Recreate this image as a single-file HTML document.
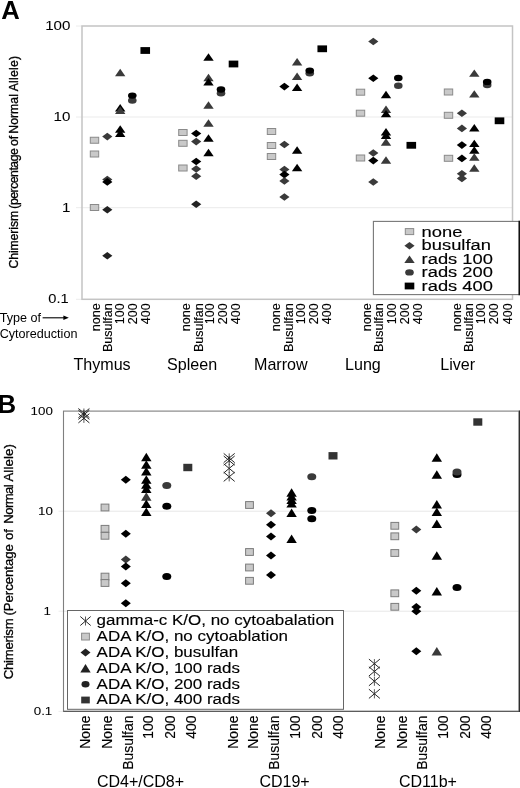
<!DOCTYPE html>
<html lang="en"><head><meta charset="utf-8"><title>Chimerism figure</title>
<style>html,body{margin:0;padding:0;background:#fff}svg{display:block;will-change:transform}text{font-family:'Liberation Sans', sans-serif;fill:#000}.b{stroke:#000;stroke-width:.13px}.b2{stroke:#000;stroke-width:.06px}.b3{stroke:#000;stroke-width:.3px}</style>
</head><body>
<svg width="520" height="788" viewBox="0 0 520 788">
<rect width="520" height="788" fill="#fff"/>
<g id="plotA">
<line x1="82.0" y1="117.0" x2="512.5" y2="117.0" stroke="#ebebeb" stroke-width="1"/>
<line x1="82.0" y1="207.7" x2="512.5" y2="207.7" stroke="#ebebeb" stroke-width="1"/>
<line x1="76.0" y1="26.0" x2="82.0" y2="26.0" stroke="#ececec" stroke-width="1"/>
<line x1="76.0" y1="117.0" x2="82.0" y2="117.0" stroke="#ececec" stroke-width="1"/>
<line x1="76.0" y1="207.7" x2="82.0" y2="207.7" stroke="#ececec" stroke-width="1"/>
<line x1="76.0" y1="299.3" x2="82.0" y2="299.3" stroke="#ececec" stroke-width="1"/>
<rect x="82.0" y="26.0" width="430.5" height="273.3" fill="none" stroke="#c4c4c4" stroke-width="1.5"/>
<rect x="90.30" y="137.25" width="8.4" height="6.0" fill="#c9c9c9" stroke="#8a8a8a" stroke-width="1"/>
<rect x="90.30" y="151.00" width="8.4" height="6.0" fill="#c9c9c9" stroke="#8a8a8a" stroke-width="1"/>
<rect x="90.30" y="204.50" width="8.4" height="6.0" fill="#c9c9c9" stroke="#8a8a8a" stroke-width="1"/>
<polygon points="102.20,136.60 107.30,132.80 112.40,136.60 107.30,140.40" fill="#3a3a3a"/>
<polygon points="102.20,179.50 107.30,175.70 112.40,179.50 107.30,183.30" fill="#3a3a3a"/>
<polygon points="102.20,181.90 107.30,178.10 112.40,181.90 107.30,185.70" fill="#000000"/>
<polygon points="102.20,209.80 107.30,206.00 112.40,209.80 107.30,213.60" fill="#222"/>
<polygon points="102.20,255.80 107.30,252.00 112.40,255.80 107.30,259.60" fill="#222"/>
<polygon points="115.00,76.20 120.20,68.80 125.40,76.20" fill="#3a3a3a"/>
<polygon points="115.00,111.50 120.20,104.10 125.40,111.50" fill="#000000"/>
<polygon points="115.00,113.90 120.20,106.50 125.40,113.90" fill="#3a3a3a"/>
<polygon points="115.00,132.70 120.20,125.30 125.40,132.70" fill="#000000"/>
<polygon points="115.00,136.90 120.20,129.50 125.40,136.90" fill="#000000"/>
<ellipse cx="132.30" cy="100.50" rx="4.3" ry="3.2" fill="#3a3a3a"/>
<ellipse cx="132.30" cy="95.60" rx="4.3" ry="3.2" fill="#000000"/>
<rect x="140.45" y="47.10" width="9.6" height="6.8" fill="#000000"/>
<rect x="178.70" y="129.50" width="8.4" height="6.0" fill="#c9c9c9" stroke="#8a8a8a" stroke-width="1"/>
<rect x="178.70" y="140.30" width="8.4" height="6.0" fill="#c9c9c9" stroke="#8a8a8a" stroke-width="1"/>
<rect x="178.70" y="165.00" width="8.4" height="6.0" fill="#c9c9c9" stroke="#8a8a8a" stroke-width="1"/>
<polygon points="191.10,133.50 196.20,129.70 201.30,133.50 196.20,137.30" fill="#000000"/>
<polygon points="191.10,141.60 196.20,137.80 201.30,141.60 196.20,145.40" fill="#3a3a3a"/>
<polygon points="191.10,161.50 196.20,157.70 201.30,161.50 196.20,165.30" fill="#000000"/>
<polygon points="191.10,169.00 196.20,165.20 201.30,169.00 196.20,172.80" fill="#3a3a3a"/>
<polygon points="191.10,176.30 196.20,172.50 201.30,176.30 196.20,180.10" fill="#3a3a3a"/>
<polygon points="191.10,204.20 196.20,200.40 201.30,204.20 196.20,208.00" fill="#222"/>
<polygon points="203.30,60.70 208.50,53.30 213.70,60.70" fill="#000000"/>
<polygon points="203.30,81.20 208.50,73.80 213.70,81.20" fill="#3a3a3a"/>
<polygon points="203.30,85.50 208.50,78.10 213.70,85.50" fill="#000000"/>
<polygon points="203.30,108.70 208.50,101.30 213.70,108.70" fill="#3a3a3a"/>
<polygon points="203.30,126.70 208.50,119.30 213.70,126.70" fill="#3a3a3a"/>
<polygon points="203.30,141.70 208.50,134.30 213.70,141.70" fill="#000000"/>
<polygon points="203.30,156.20 208.50,148.80 213.70,156.20" fill="#000000"/>
<ellipse cx="221.00" cy="93.30" rx="4.3" ry="3.2" fill="#3a3a3a"/>
<ellipse cx="221.00" cy="89.50" rx="4.3" ry="3.2" fill="#000000"/>
<rect x="228.70" y="60.60" width="9.6" height="6.8" fill="#000000"/>
<rect x="267.30" y="128.50" width="8.4" height="6.0" fill="#c9c9c9" stroke="#8a8a8a" stroke-width="1"/>
<rect x="267.30" y="142.50" width="8.4" height="6.0" fill="#c9c9c9" stroke="#8a8a8a" stroke-width="1"/>
<rect x="267.30" y="153.50" width="8.4" height="6.0" fill="#c9c9c9" stroke="#8a8a8a" stroke-width="1"/>
<polygon points="279.30,86.60 284.40,82.80 289.50,86.60 284.40,90.40" fill="#000000"/>
<polygon points="279.30,144.50 284.40,140.70 289.50,144.50 284.40,148.30" fill="#3a3a3a"/>
<polygon points="279.30,169.50 284.40,165.70 289.50,169.50 284.40,173.30" fill="#3a3a3a"/>
<polygon points="279.30,174.60 284.40,170.80 289.50,174.60 284.40,178.40" fill="#000000"/>
<polygon points="279.30,181.00 284.40,177.20 289.50,181.00 284.40,184.80" fill="#3a3a3a"/>
<polygon points="279.30,197.00 284.40,193.20 289.50,197.00 284.40,200.80" fill="#3a3a3a"/>
<polygon points="291.90,65.50 297.10,58.10 302.30,65.50" fill="#3a3a3a"/>
<polygon points="291.90,80.00 297.10,72.60 302.30,80.00" fill="#3a3a3a"/>
<polygon points="291.90,91.00 297.10,83.60 302.30,91.00" fill="#000000"/>
<polygon points="291.90,153.70 297.10,146.30 302.30,153.70" fill="#000000"/>
<polygon points="291.90,171.20 297.10,163.80 302.30,171.20" fill="#000000"/>
<ellipse cx="309.75" cy="73.20" rx="4.3" ry="3.2" fill="#3a3a3a"/>
<ellipse cx="309.75" cy="70.60" rx="4.3" ry="3.2" fill="#000000"/>
<rect x="317.45" y="45.40" width="9.6" height="6.8" fill="#000000"/>
<rect x="356.30" y="89.20" width="8.4" height="6.0" fill="#c9c9c9" stroke="#8a8a8a" stroke-width="1"/>
<rect x="356.30" y="110.20" width="8.4" height="6.0" fill="#c9c9c9" stroke="#8a8a8a" stroke-width="1"/>
<rect x="356.30" y="155.00" width="8.4" height="6.0" fill="#c9c9c9" stroke="#8a8a8a" stroke-width="1"/>
<polygon points="368.20,41.50 373.30,37.70 378.40,41.50 373.30,45.30" fill="#3a3a3a"/>
<polygon points="368.20,78.20 373.30,74.40 378.40,78.20 373.30,82.00" fill="#000000"/>
<polygon points="368.20,153.00 373.30,149.20 378.40,153.00 373.30,156.80" fill="#3a3a3a"/>
<polygon points="368.20,160.60 373.30,156.80 378.40,160.60 373.30,164.40" fill="#000000"/>
<polygon points="368.20,182.00 373.30,178.20 378.40,182.00 373.30,185.80" fill="#3a3a3a"/>
<polygon points="380.80,98.20 386.00,90.80 391.20,98.20" fill="#000000"/>
<polygon points="380.80,113.00 386.00,105.60 391.20,113.00" fill="#3a3a3a"/>
<polygon points="380.80,117.30 386.00,109.90 391.20,117.30" fill="#000000"/>
<polygon points="380.80,135.50 386.00,128.10 391.20,135.50" fill="#000000"/>
<polygon points="380.80,138.90 386.00,131.50 391.20,138.90" fill="#000000"/>
<polygon points="380.80,145.70 386.00,138.30 391.20,145.70" fill="#3a3a3a"/>
<polygon points="380.80,163.70 386.00,156.30 391.20,163.70" fill="#3a3a3a"/>
<ellipse cx="398.30" cy="85.80" rx="4.3" ry="3.2" fill="#3a3a3a"/>
<ellipse cx="398.30" cy="78.00" rx="4.3" ry="3.2" fill="#000000"/>
<rect x="406.50" y="141.90" width="9.6" height="6.8" fill="#000000"/>
<rect x="444.30" y="89.00" width="8.4" height="6.0" fill="#c9c9c9" stroke="#8a8a8a" stroke-width="1"/>
<rect x="444.30" y="112.30" width="8.4" height="6.0" fill="#c9c9c9" stroke="#8a8a8a" stroke-width="1"/>
<rect x="444.30" y="155.30" width="8.4" height="6.0" fill="#c9c9c9" stroke="#8a8a8a" stroke-width="1"/>
<polygon points="456.80,113.30 461.90,109.50 467.00,113.30 461.90,117.10" fill="#3a3a3a"/>
<polygon points="456.80,128.40 461.90,124.60 467.00,128.40 461.90,132.20" fill="#3a3a3a"/>
<polygon points="456.80,145.10 461.90,141.30 467.00,145.10 461.90,148.90" fill="#000000"/>
<polygon points="456.80,158.40 461.90,154.60 467.00,158.40 461.90,162.20" fill="#000000"/>
<polygon points="456.80,173.70 461.90,169.90 467.00,173.70 461.90,177.50" fill="#3a3a3a"/>
<polygon points="456.80,178.40 461.90,174.60 467.00,178.40 461.90,182.20" fill="#3a3a3a"/>
<polygon points="469.10,76.80 474.30,69.40 479.50,76.80" fill="#3a3a3a"/>
<polygon points="469.10,97.60 474.30,90.20 479.50,97.60" fill="#3a3a3a"/>
<polygon points="469.10,131.40 474.30,124.00 479.50,131.40" fill="#000000"/>
<polygon points="469.10,147.10 474.30,139.70 479.50,147.10" fill="#000000"/>
<polygon points="469.10,153.70 474.30,146.30 479.50,153.70" fill="#000000"/>
<polygon points="469.10,160.70 474.30,153.30 479.50,160.70" fill="#3a3a3a"/>
<polygon points="469.10,171.70 474.30,164.30 479.50,171.70" fill="#3a3a3a"/>
<ellipse cx="487.20" cy="85.10" rx="4.3" ry="3.2" fill="#3a3a3a"/>
<ellipse cx="487.20" cy="81.90" rx="4.3" ry="3.2" fill="#000000"/>
<rect x="494.70" y="117.40" width="9.6" height="6.8" fill="#000000"/>
<rect x="373.4" y="221.4" width="146.0" height="73.2" fill="#fff" stroke="#777" stroke-width="1.1"/>
<line x1="519.3" y1="220.8" x2="519.3" y2="295.2" stroke="#111" stroke-width="1.6"/>
<rect x="405.30" y="228.60" width="8.4" height="6.0" fill="#c9c9c9" stroke="#8a8a8a" stroke-width="1"/>
<polygon points="404.40,245.80 409.50,242.00 414.60,245.80 409.50,249.60" fill="#3a3a3a"/>
<polygon points="404.30,262.90 409.50,255.50 414.70,262.90" fill="#3a3a3a"/>
<ellipse cx="409.50" cy="272.40" rx="4.3" ry="3.2" fill="#3a3a3a"/>
<rect x="404.70" y="282.60" width="9.6" height="6.8" fill="#000000"/>
<text transform="translate(421.60,236.50) scale(1.31,1)" font-size="14.0" text-anchor="start" font-weight="normal" class="b">none</text>
<text transform="translate(421.60,250.00) scale(1.31,1)" font-size="14.0" text-anchor="start" font-weight="normal" class="b">busulfan</text>
<text transform="translate(421.60,263.50) scale(1.31,1)" font-size="14.0" text-anchor="start" font-weight="normal" class="b">rads 100</text>
<text transform="translate(421.60,277.00) scale(1.31,1)" font-size="14.0" text-anchor="start" font-weight="normal" class="b">rads 200</text>
<text transform="translate(421.60,290.50) scale(1.31,1)" font-size="14.0" text-anchor="start" font-weight="normal" class="b">rads 400</text>
<text transform="translate(70.40,30.40) scale(1.24,1)" font-size="12.2" text-anchor="end" font-weight="normal" class="b2">100</text>
<text transform="translate(70.40,121.30) scale(1.24,1)" font-size="12.2" text-anchor="end" font-weight="normal" class="b2">10</text>
<text transform="translate(70.40,212.40) scale(1.24,1)" font-size="12.2" text-anchor="end" font-weight="normal" class="b2">1</text>
<text transform="translate(68.60,303.10) scale(1.2,1)" font-size="12.2" text-anchor="end" font-weight="normal" class="b2">0.1</text>
<text class="b3" transform="translate(18.4,268.5) rotate(-90) scale(1,1.12)" font-size="12.2" textLength="57.6" lengthAdjust="spacing">Chimerism</text>
<text class="b3" transform="translate(18.4,208.7) rotate(-90) scale(1,1.12)" font-size="12.2" textLength="60.5" lengthAdjust="spacing">(percentage</text>
<text class="b3" transform="translate(18.4,146.0) rotate(-90) scale(1,1.12)" font-size="12.2">of</text>
<text class="b3" transform="translate(18.4,133.7) rotate(-90) scale(1,1.12)" font-size="12.2" textLength="39.6" lengthAdjust="spacing">Normal</text>
<text class="b3" transform="translate(18.4,91.3) rotate(-90) scale(1,1.12)" font-size="12.2" textLength="35.4" lengthAdjust="spacing">Allele)</text>
</g>
<text transform="translate(1.20,18.70) scale(0.98,1)" font-size="26.2" text-anchor="start" font-weight="bold" >A</text>
<text transform="translate(-2.40,412.60)" font-size="25.8" text-anchor="start" font-weight="bold" >B</text>
<text transform="translate(-0.30,322.30)" font-size="12.6" text-anchor="start" font-weight="normal" >Type of</text>
<text transform="translate(-0.30,337.90)" font-size="12.6" text-anchor="start" font-weight="normal" >Cytoreduction</text>
<line x1="42.6" y1="317.8" x2="64.5" y2="317.8" stroke="#000" stroke-width="1.1"/>
<polygon points="63.4,315.5 68.8,317.8 63.4,320.1" fill="#000"/>
<text transform="translate(100.10,303.40) rotate(-90)" font-size="12.5" text-anchor="end" font-weight="normal" class="b">none</text>
<text transform="translate(112.20,303.40) rotate(-90)" font-size="12.5" text-anchor="end" font-weight="normal" class="b">Busulfan</text>
<text transform="translate(124.20,303.40) rotate(-90)" font-size="12.5" text-anchor="end" font-weight="normal" class="b">100</text>
<text transform="translate(137.20,303.40) rotate(-90)" font-size="12.5" text-anchor="end" font-weight="normal" class="b">200</text>
<text transform="translate(150.20,303.40) rotate(-90)" font-size="12.5" text-anchor="end" font-weight="normal" class="b">400</text>
<text transform="translate(189.90,303.40) rotate(-90)" font-size="12.5" text-anchor="end" font-weight="normal" class="b">none</text>
<text transform="translate(202.50,303.40) rotate(-90)" font-size="12.5" text-anchor="end" font-weight="normal" class="b">Busulfan</text>
<text transform="translate(214.10,303.40) rotate(-90)" font-size="12.5" text-anchor="end" font-weight="normal" class="b">100</text>
<text transform="translate(226.90,303.40) rotate(-90)" font-size="12.5" text-anchor="end" font-weight="normal" class="b">200</text>
<text transform="translate(239.60,303.40) rotate(-90)" font-size="12.5" text-anchor="end" font-weight="normal" class="b">400</text>
<text transform="translate(280.40,303.40) rotate(-90)" font-size="12.5" text-anchor="end" font-weight="normal" class="b">none</text>
<text transform="translate(292.90,303.40) rotate(-90)" font-size="12.5" text-anchor="end" font-weight="normal" class="b">Busulfan</text>
<text transform="translate(305.00,303.40) rotate(-90)" font-size="12.5" text-anchor="end" font-weight="normal" class="b">100</text>
<text transform="translate(318.00,303.40) rotate(-90)" font-size="12.5" text-anchor="end" font-weight="normal" class="b">200</text>
<text transform="translate(331.10,303.40) rotate(-90)" font-size="12.5" text-anchor="end" font-weight="normal" class="b">400</text>
<text transform="translate(370.90,303.40) rotate(-90)" font-size="12.5" text-anchor="end" font-weight="normal" class="b">none</text>
<text transform="translate(383.30,303.40) rotate(-90)" font-size="12.5" text-anchor="end" font-weight="normal" class="b">Busulfan</text>
<text transform="translate(396.10,303.40) rotate(-90)" font-size="12.5" text-anchor="end" font-weight="normal" class="b">100</text>
<text transform="translate(408.90,303.40) rotate(-90)" font-size="12.5" text-anchor="end" font-weight="normal" class="b">200</text>
<text transform="translate(422.10,303.40) rotate(-90)" font-size="12.5" text-anchor="end" font-weight="normal" class="b">400</text>
<text transform="translate(460.80,303.40) rotate(-90)" font-size="12.5" text-anchor="end" font-weight="normal" class="b">none</text>
<text transform="translate(473.00,303.40) rotate(-90)" font-size="12.5" text-anchor="end" font-weight="normal" class="b">Busulfan</text>
<text transform="translate(485.10,303.40) rotate(-90)" font-size="12.5" text-anchor="end" font-weight="normal" class="b">100</text>
<text transform="translate(498.20,303.40) rotate(-90)" font-size="12.5" text-anchor="end" font-weight="normal" class="b">200</text>
<text transform="translate(512.10,303.40) rotate(-90)" font-size="12.5" text-anchor="end" font-weight="normal" class="b">400</text>
<text transform="translate(73.40,369.90)" font-size="16.1" text-anchor="start" font-weight="normal" >Thymus</text>
<text transform="translate(167.00,369.90)" font-size="16.1" text-anchor="start" font-weight="normal" >Spleen</text>
<text transform="translate(254.00,369.90)" font-size="16.1" text-anchor="start" font-weight="normal" >Marrow</text>
<text transform="translate(345.00,369.90)" font-size="16.1" text-anchor="start" font-weight="normal" >Lung</text>
<text transform="translate(440.20,369.90)" font-size="16.1" text-anchor="start" font-weight="normal" >Liver</text>
<g id="plotB">
<line x1="63.5" y1="511.2" x2="519.0" y2="511.2" stroke="#e7e7e7" stroke-width="1"/>
<line x1="63.5" y1="611.2" x2="519.0" y2="611.2" stroke="#e7e7e7" stroke-width="1"/>
<line x1="58.5" y1="511.2" x2="63.5" y2="511.2" stroke="#ededed" stroke-width="1"/>
<line x1="58.5" y1="611.2" x2="63.5" y2="611.2" stroke="#ededed" stroke-width="1"/>
<line x1="58.5" y1="711.4" x2="63.5" y2="711.4" stroke="#ededed" stroke-width="1"/>
<rect x="63.5" y="411.1" width="455.5" height="300.29999999999995" fill="none" stroke="#7f7f7f" stroke-width="1.1"/>
<line x1="63.5" y1="711.4" x2="520" y2="711.4" stroke="#5c5c5c" stroke-width="1.2"/>
<line x1="519.45" y1="410.6" x2="519.45" y2="712.0" stroke="#2e2e2e" stroke-width="1.2"/>
<path d="M78.40 408.50L89.40 417.70M78.40 417.70L89.40 408.50" stroke="#262626" stroke-width="1.0" fill="none"/>
<path d="M83.90 408.50L83.90 417.70" stroke="#262626" stroke-width="0.75" fill="none"/>
<path d="M78.40 410.20L89.40 419.40M78.40 419.40L89.40 410.20" stroke="#262626" stroke-width="1.0" fill="none"/>
<path d="M83.90 410.20L83.90 419.40" stroke="#262626" stroke-width="0.75" fill="none"/>
<path d="M78.40 413.70L89.40 422.90M78.40 422.90L89.40 413.70" stroke="#262626" stroke-width="1.0" fill="none"/>
<path d="M83.90 413.70L83.90 422.90" stroke="#262626" stroke-width="0.75" fill="none"/>
<rect x="101.10" y="504.10" width="7.8" height="6.8" fill="#c9c9c9" stroke="#7c7c7c" stroke-width="1"/>
<rect x="101.10" y="525.40" width="7.8" height="6.8" fill="#c9c9c9" stroke="#7c7c7c" stroke-width="1"/>
<rect x="101.10" y="532.40" width="7.8" height="6.8" fill="#c9c9c9" stroke="#7c7c7c" stroke-width="1"/>
<rect x="101.10" y="573.20" width="7.8" height="6.8" fill="#c9c9c9" stroke="#7c7c7c" stroke-width="1"/>
<rect x="101.10" y="579.60" width="7.8" height="6.8" fill="#c9c9c9" stroke="#7c7c7c" stroke-width="1"/>
<polygon points="120.80,479.80 125.80,475.80 130.80,479.80 125.80,483.80" fill="#000000"/>
<polygon points="120.80,533.80 125.80,529.80 130.80,533.80 125.80,537.80" fill="#000000"/>
<polygon points="120.80,559.50 125.80,555.50 130.80,559.50 125.80,563.50" fill="#3a3a3a"/>
<polygon points="120.80,566.60 125.80,562.60 130.80,566.60 125.80,570.60" fill="#000000"/>
<polygon points="120.80,583.30 125.80,579.30 130.80,583.30 125.80,587.30" fill="#000000"/>
<polygon points="120.80,603.30 125.80,599.30 130.80,603.30 125.80,607.30" fill="#000000"/>
<polygon points="141.10,461.20 146.30,452.80 151.50,461.20" fill="#000000"/>
<polygon points="141.10,468.70 146.30,460.30 151.50,468.70" fill="#000000"/>
<polygon points="141.10,475.50 146.30,467.10 151.50,475.50" fill="#000000"/>
<polygon points="141.10,483.70 146.30,475.30 151.50,483.70" fill="#000000"/>
<polygon points="141.10,488.70 146.30,480.30 151.50,488.70" fill="#000000"/>
<polygon points="141.10,493.00 146.30,484.60 151.50,493.00" fill="#000000"/>
<polygon points="141.10,500.70 146.30,492.30 151.50,500.70" fill="#3a3a3a"/>
<polygon points="141.10,508.00 146.30,499.60 151.50,508.00" fill="#000000"/>
<polygon points="141.10,516.00 146.30,507.60 151.50,516.00" fill="#000000"/>
<ellipse cx="166.80" cy="485.50" rx="4.5" ry="3.5" fill="#3a3a3a"/>
<ellipse cx="166.80" cy="506.30" rx="4.5" ry="3.5" fill="#000000"/>
<ellipse cx="166.80" cy="576.60" rx="4.5" ry="3.5" fill="#000000"/>
<rect x="183.30" y="463.80" width="9.0" height="7.4" fill="#333"/>
<path d="M223.70 453.40L234.70 462.60M223.70 462.60L234.70 453.40" stroke="#262626" stroke-width="1.0" fill="none"/>
<path d="M229.20 453.40L229.20 462.60" stroke="#262626" stroke-width="0.75" fill="none"/>
<path d="M223.70 456.00L234.70 465.20M223.70 465.20L234.70 456.00" stroke="#262626" stroke-width="1.0" fill="none"/>
<path d="M229.20 456.00L229.20 465.20" stroke="#262626" stroke-width="0.75" fill="none"/>
<path d="M223.70 463.80L234.70 473.00M223.70 473.00L234.70 463.80" stroke="#262626" stroke-width="1.0" fill="none"/>
<path d="M229.20 463.80L229.20 473.00" stroke="#262626" stroke-width="0.75" fill="none"/>
<path d="M223.70 472.20L234.70 481.40M223.70 481.40L234.70 472.20" stroke="#262626" stroke-width="1.0" fill="none"/>
<path d="M229.20 472.20L229.20 481.40" stroke="#262626" stroke-width="0.75" fill="none"/>
<rect x="245.60" y="501.60" width="7.8" height="6.8" fill="#c9c9c9" stroke="#7c7c7c" stroke-width="1"/>
<rect x="245.60" y="548.60" width="7.8" height="6.8" fill="#c9c9c9" stroke="#7c7c7c" stroke-width="1"/>
<rect x="245.60" y="564.10" width="7.8" height="6.8" fill="#c9c9c9" stroke="#7c7c7c" stroke-width="1"/>
<rect x="245.60" y="577.40" width="7.8" height="6.8" fill="#c9c9c9" stroke="#7c7c7c" stroke-width="1"/>
<polygon points="266.00,513.20 271.00,509.20 276.00,513.20 271.00,517.20" fill="#3a3a3a"/>
<polygon points="266.00,524.80 271.00,520.80 276.00,524.80 271.00,528.80" fill="#000000"/>
<polygon points="266.00,536.60 271.00,532.60 276.00,536.60 271.00,540.60" fill="#000000"/>
<polygon points="266.00,555.50 271.00,551.50 276.00,555.50 271.00,559.50" fill="#000000"/>
<polygon points="266.00,575.00 271.00,571.00 276.00,575.00 271.00,579.00" fill="#000000"/>
<polygon points="286.40,496.70 291.60,488.30 296.80,496.70" fill="#000000"/>
<polygon points="286.40,500.50 291.60,492.10 296.80,500.50" fill="#000000"/>
<polygon points="286.40,504.00 291.60,495.60 296.80,504.00" fill="#000000"/>
<polygon points="286.40,507.60 291.60,499.20 296.80,507.60" fill="#000000"/>
<polygon points="286.40,517.00 291.60,508.60 296.80,517.00" fill="#000000"/>
<polygon points="286.40,543.00 291.60,534.60 296.80,543.00" fill="#000000"/>
<ellipse cx="311.80" cy="476.80" rx="4.5" ry="3.5" fill="#3a3a3a"/>
<ellipse cx="311.80" cy="510.50" rx="4.5" ry="3.5" fill="#000000"/>
<ellipse cx="311.80" cy="518.80" rx="4.5" ry="3.5" fill="#000000"/>
<rect x="328.50" y="452.10" width="9.0" height="7.4" fill="#333"/>
<path d="M368.90 659.10L379.90 668.30M368.90 668.30L379.90 659.10" stroke="#262626" stroke-width="1.0" fill="none"/>
<path d="M374.40 659.10L374.40 668.30" stroke="#262626" stroke-width="0.75" fill="none"/>
<path d="M368.90 666.80L379.90 676.00M368.90 676.00L379.90 666.80" stroke="#262626" stroke-width="1.0" fill="none"/>
<path d="M374.40 666.80L374.40 676.00" stroke="#262626" stroke-width="0.75" fill="none"/>
<path d="M368.90 676.60L379.90 685.80M368.90 685.80L379.90 676.60" stroke="#262626" stroke-width="1.0" fill="none"/>
<path d="M374.40 676.60L374.40 685.80" stroke="#262626" stroke-width="0.75" fill="none"/>
<path d="M368.90 689.20L379.90 698.40M368.90 698.40L379.90 689.20" stroke="#262626" stroke-width="1.0" fill="none"/>
<path d="M374.40 689.20L374.40 698.40" stroke="#262626" stroke-width="0.75" fill="none"/>
<rect x="390.90" y="522.40" width="7.8" height="6.8" fill="#c9c9c9" stroke="#7c7c7c" stroke-width="1"/>
<rect x="390.90" y="532.90" width="7.8" height="6.8" fill="#c9c9c9" stroke="#7c7c7c" stroke-width="1"/>
<rect x="390.90" y="549.60" width="7.8" height="6.8" fill="#c9c9c9" stroke="#7c7c7c" stroke-width="1"/>
<rect x="390.90" y="589.90" width="7.8" height="6.8" fill="#c9c9c9" stroke="#7c7c7c" stroke-width="1"/>
<rect x="390.90" y="603.40" width="7.8" height="6.8" fill="#c9c9c9" stroke="#7c7c7c" stroke-width="1"/>
<polygon points="411.30,529.50 416.30,525.50 421.30,529.50 416.30,533.50" fill="#3a3a3a"/>
<polygon points="411.30,590.80 416.30,586.80 421.30,590.80 416.30,594.80" fill="#000000"/>
<polygon points="411.30,607.00 416.30,603.00 421.30,607.00 416.30,611.00" fill="#000000"/>
<polygon points="411.30,611.30 416.30,607.30 421.30,611.30 416.30,615.30" fill="#000000"/>
<polygon points="411.30,651.30 416.30,647.30 421.30,651.30 416.30,655.30" fill="#000000"/>
<polygon points="431.60,461.70 436.80,453.30 442.00,461.70" fill="#000000"/>
<polygon points="431.60,478.70 436.80,470.30 442.00,478.70" fill="#000000"/>
<polygon points="431.60,508.50 436.80,500.10 442.00,508.50" fill="#000000"/>
<polygon points="431.60,516.00 436.80,507.60 442.00,516.00" fill="#000000"/>
<polygon points="431.60,528.00 436.80,519.60 442.00,528.00" fill="#000000"/>
<polygon points="431.60,559.70 436.80,551.30 442.00,559.70" fill="#000000"/>
<polygon points="431.60,595.50 436.80,587.10 442.00,595.50" fill="#000000"/>
<polygon points="431.60,655.50 436.80,647.10 442.00,655.50" fill="#3a3a3a"/>
<ellipse cx="457.00" cy="474.40" rx="4.5" ry="3.5" fill="#000000"/>
<ellipse cx="457.00" cy="472.00" rx="4.5" ry="3.5" fill="#3a3a3a"/>
<ellipse cx="457.00" cy="587.50" rx="4.5" ry="3.5" fill="#000000"/>
<rect x="473.30" y="418.30" width="9.0" height="7.4" fill="#333"/>
<rect x="67.5" y="610.5" width="276.0" height="98.8" fill="#fff" stroke="#666" stroke-width="1"/>
<path d="M80.30 616.50L90.70 625.50M80.30 625.50L90.70 616.50" stroke="#262626" stroke-width="1.0" fill="none"/>
<path d="M85.50 616.50L85.50 625.50" stroke="#262626" stroke-width="0.75" fill="none"/>
<rect x="81.60" y="633.20" width="7.8" height="6.8" fill="#c9c9c9" stroke="#8a8a8a" stroke-width="1"/>
<polygon points="80.50,652.40 85.50,648.40 90.50,652.40 85.50,656.40" fill="#222"/>
<polygon points="80.30,672.40 85.50,664.00 90.70,672.40" fill="#222"/>
<ellipse cx="85.50" cy="684.20" rx="4.0" ry="3.25" fill="#222"/>
<rect x="81.20" y="696.60" width="8.6" height="6.8" fill="#333"/>
<text transform="translate(96.60,625.30) scale(1.187,1)" font-size="14.3" text-anchor="start" font-weight="normal" class="b">gamma-c K/O, no cytoabalation</text>
<text transform="translate(96.60,640.90) scale(1.187,1)" font-size="14.3" text-anchor="start" font-weight="normal" class="b">ADA K/O, no cytoablation</text>
<text transform="translate(96.60,656.70) scale(1.187,1)" font-size="14.3" text-anchor="start" font-weight="normal" class="b">ADA K/O, busulfan</text>
<text transform="translate(96.60,672.50) scale(1.187,1)" font-size="14.3" text-anchor="start" font-weight="normal" class="b">ADA K/O, 100 rads</text>
<text transform="translate(96.60,688.50) scale(1.187,1)" font-size="14.3" text-anchor="start" font-weight="normal" class="b">ADA K/O, 200 rads</text>
<text transform="translate(96.60,704.30) scale(1.187,1)" font-size="14.3" text-anchor="start" font-weight="normal" class="b">ADA K/O, 400 rads</text>
<text transform="translate(52.80,415.00) scale(1.15,1)" font-size="11.6" text-anchor="end" font-weight="normal" class="b2">100</text>
<text transform="translate(52.80,515.20) scale(1.15,1)" font-size="11.6" text-anchor="end" font-weight="normal" class="b2">10</text>
<text transform="translate(51.00,615.20) scale(1.15,1)" font-size="11.6" text-anchor="end" font-weight="normal" class="b2">1</text>
<text transform="translate(52.30,715.00) scale(1.15,1)" font-size="11.6" text-anchor="end" font-weight="normal" class="b2">0.1</text>
<text class="b3" transform="translate(13.1,679.3) rotate(-90)" font-size="13.2" textLength="61.0" lengthAdjust="spacing">Chimerism</text>
<text class="b3" transform="translate(13.1,615.6) rotate(-90)" font-size="13.2" textLength="71.5" lengthAdjust="spacing">(Percentage</text>
<text class="b3" transform="translate(13.1,540.0) rotate(-90)" font-size="13.2">of</text>
<text class="b3" transform="translate(13.1,523.8) rotate(-90)" font-size="13.2" textLength="39.6" lengthAdjust="spacing">Normal</text>
<text class="b3" transform="translate(13.1,481.6) rotate(-90)" font-size="13.2" textLength="37.6" lengthAdjust="spacing">Allele)</text>
</g>
<text transform="translate(90.40,715.60) rotate(-90)" font-size="13.9" text-anchor="end" font-weight="normal" class="b">None</text>
<text transform="translate(111.80,715.60) rotate(-90)" font-size="13.9" text-anchor="end" font-weight="normal" class="b">None</text>
<text transform="translate(132.60,715.60) rotate(-90)" font-size="13.9" text-anchor="end" font-weight="normal" class="b">Busulfan</text>
<text transform="translate(152.70,715.60) rotate(-90)" font-size="13.9" text-anchor="end" font-weight="normal" class="b">100</text>
<text transform="translate(174.50,715.60) rotate(-90)" font-size="13.9" text-anchor="end" font-weight="normal" class="b">200</text>
<text transform="translate(195.90,715.60) rotate(-90)" font-size="13.9" text-anchor="end" font-weight="normal" class="b">400</text>
<text transform="translate(237.50,715.60) rotate(-90)" font-size="13.9" text-anchor="end" font-weight="normal" class="b">None</text>
<text transform="translate(258.20,715.60) rotate(-90)" font-size="13.9" text-anchor="end" font-weight="normal" class="b">None</text>
<text transform="translate(279.40,715.60) rotate(-90)" font-size="13.9" text-anchor="end" font-weight="normal" class="b">Busulfan</text>
<text transform="translate(299.80,715.60) rotate(-90)" font-size="13.9" text-anchor="end" font-weight="normal" class="b">100</text>
<text transform="translate(321.60,715.60) rotate(-90)" font-size="13.9" text-anchor="end" font-weight="normal" class="b">200</text>
<text transform="translate(343.00,715.60) rotate(-90)" font-size="13.9" text-anchor="end" font-weight="normal" class="b">400</text>
<text transform="translate(384.80,715.60) rotate(-90)" font-size="13.9" text-anchor="end" font-weight="normal" class="b">None</text>
<text transform="translate(406.60,715.60) rotate(-90)" font-size="13.9" text-anchor="end" font-weight="normal" class="b">None</text>
<text transform="translate(427.00,715.60) rotate(-90)" font-size="13.9" text-anchor="end" font-weight="normal" class="b">Busulfan</text>
<text transform="translate(447.80,715.60) rotate(-90)" font-size="13.9" text-anchor="end" font-weight="normal" class="b">100</text>
<text transform="translate(469.60,715.60) rotate(-90)" font-size="13.9" text-anchor="end" font-weight="normal" class="b">200</text>
<text transform="translate(491.10,715.60) rotate(-90)" font-size="13.9" text-anchor="end" font-weight="normal" class="b">400</text>
<text transform="translate(96.90,786.90)" font-size="16" text-anchor="start" font-weight="normal" >CD4+/CD8+</text>
<text transform="translate(259.40,786.90)" font-size="16" text-anchor="start" font-weight="normal" >CD19+</text>
<text transform="translate(399.00,786.90)" font-size="16" text-anchor="start" font-weight="normal" >CD11b+</text>
</svg></body></html>
